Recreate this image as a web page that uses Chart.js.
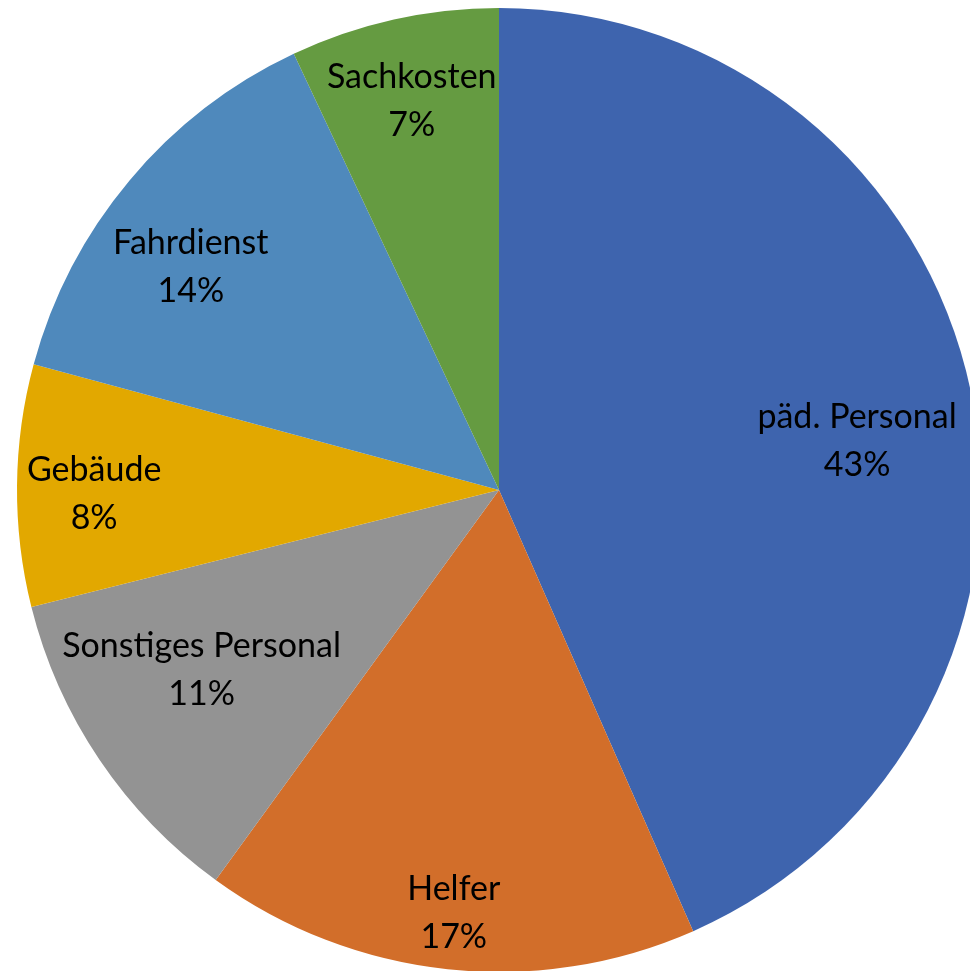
<!DOCTYPE html>
<html>
<head>
<meta charset="utf-8">
<script src="https://cdn.jsdelivr.net/npm/chart.js@4"></script>
<style>
  html, body { margin: 0; padding: 0; background: #fff; overflow: hidden; }
  #wrap { position: absolute; left: 0; top: 0; width: 998px; height: 972px; }
</style>
</head>
<body>
<div id="wrap"><canvas id="pie-chart"></canvas></div>
<script>
'use strict';

// Kostenanteile (im Uhrzeigersinn ab 12 Uhr)
const categories = ['päd. Personal', 'Helfer', 'Sonstiges Personal', 'Gebäude', 'Fahrdienst', 'Sachkosten'];
const shares = [43.4, 16.6, 11.1, 8.1, 13.8, 7.0];
const colors = ['#3E64AE', '#D26E2A', '#939393', '#E2A800', '#4F89BC', '#659B41'];

// Beschriftungsposition: Anteil des Radius, Winkelverschiebung in Grad
const labelPlace = [
  [0.75, 4], [0.88, 0], [0.72, 3], [0.84, -1], [0.79, -4], [0.83, 0],
];

const labelPlugin = {
  id: 'sliceLabels',
  afterDatasetsDraw(chart) {
    const ctx = chart.ctx;
    const meta = chart.getDatasetMeta(0);
    const total = shares.reduce((a, b) => a + b, 0);
    ctx.save();
    ctx.font = '34px Lato';
    ctx.fillStyle = '#000';
    ctx.textAlign = 'center';
    ctx.textBaseline = 'middle';
    meta.data.forEach((arc, i) => {
      const p = arc.getProps(['x', 'y', 'startAngle', 'endAngle', 'outerRadius'], true);
      const mid = (p.startAngle + p.endAngle) / 2 + labelPlace[i][1] * Math.PI / 180;
      const r = p.outerRadius * labelPlace[i][0];
      const x = p.x + Math.cos(mid) * r;
      const y = p.y + Math.sin(mid) * r;
      ctx.fillText(categories[i], x, y - 23);
      ctx.fillText(Math.round(shares[i] / total * 100) + '%', x, y + 25);
    });
    ctx.restore();
  }
};

const ctx = document.getElementById('pie-chart').getContext('2d');
new Chart(ctx, {
  type: 'pie',
  data: {
    labels: categories,
    datasets: [{
      data: shares,
      backgroundColor: colors,
      borderWidth: 0,
    }]
  },
  options: {
    responsive: true,
    maintainAspectRatio: false,
    animation: false,
    layout: { padding: { top: 8 } },
    plugins: {
      legend: { display: false },
      tooltip: { enabled: false },
    },
  },
  plugins: [labelPlugin],
});
</script>
</body>
</html>
